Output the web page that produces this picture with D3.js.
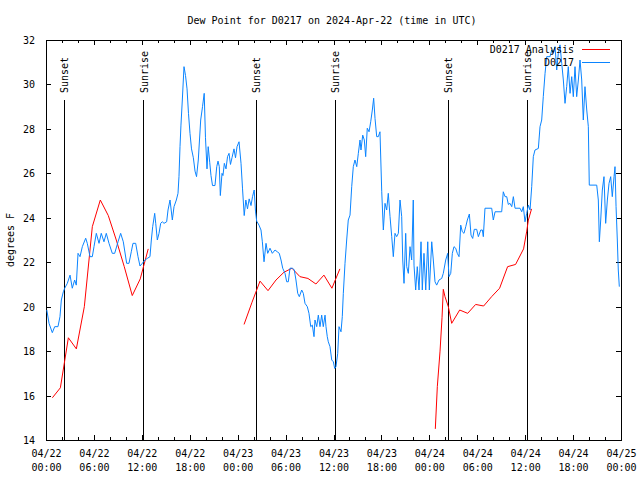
<!DOCTYPE html>
<html>
<head>
<meta charset="utf-8">
<script src="https://cdn.jsdelivr.net/npm/d3@7"></script>
<style>
  html, body { margin: 0; padding: 0; background: #fff; }
  svg text { font-family: "DejaVu Sans Mono", "Liberation Mono", monospace; font-size: 10px; fill: #000; }
</style>
</head>
<body>
<svg id="chart" width="640" height="480"></svg>
<script>
// ---- Data (hours since 2024-04-22 00:00 UTC) ----
const titleText = "Dew Point for D0217 on 2024-Apr-22 (time in UTC)";
const yLabel = "degrees F";
const seriesNames = ["D0217 Analysis", "D0217"];
const yTicks = [14, 16, 18, 20, 22, 24, 26, 28, 30, 32];

// Analysis (red); null marks a gap
const analysisHours = [0.8, 1.8, 2.8, 3.8, 4.8, 5.8, 6.8, 7.8, 8.8, 9.8, 10.8, 11.8, 12.8,
  null,
  24.8, 25.8, 26.8, 27.8, 28.8, 29.8, 30.8, 31.8, 32.8, 33.8, 34.8, 35.8, 36.8,
  null,
  48.75, 49.0, 49.34, 49.59, 49.75, 49.96, 50.38, 50.8, 51.8, 52.8, 53.8, 54.8, 55.8, 56.8,
  57.8, 58.8, 59.8, 60.2, 60.4, 60.8];
const analysisValues = [15.9, 16.35, 18.6, 18.1, 20.0, 23.6, 24.8, 24.1, 23.0, 21.8, 20.5, 21.25, 22.6,
  null,
  19.2, 20.2, 21.15, 20.72, 21.2, 21.55, 21.73, 21.35, 21.27, 21.02, 21.42, 20.83, 21.7,
  null,
  14.5, 16.4, 18.0, 19.5, 20.78, 20.45, 20.0, 19.25, 19.85, 19.7, 20.1, 20.03, 20.45, 20.83,
  21.8, 21.9, 22.6, 23.4, 23.9, 24.4];

// Observations (blue)
const obsHours = [0.1, 0.38, 0.79, 1.09, 1.50, 1.75, 1.92, 2.17, 2.34, 2.67, 3.01, 3.29, 3.59, 3.79,
  4.01, 4.26, 4.55, 4.97, 5.17, 5.51, 5.80, 6.01, 6.30, 6.64, 6.92, 7.26, 7.55, 7.89, 8.30, 8.60,
  9.02, 9.35, 9.68, 10.10, 10.39, 10.68, 10.89, 11.23, 11.52, 11.77, 12.06, 12.40, 12.68, 13.02,
  13.19, 13.36, 13.61, 13.74, 13.94, 14.15, 14.36, 14.56, 14.78, 15.11, 15.28, 15.53, 15.82, 16.03,
  16.32, 16.53, 16.65, 16.78, 16.90, 17.07, 17.28, 17.47, 17.66, 17.84, 18.03, 18.22, 18.45, 18.66,
  18.85, 19.07, 19.22, 19.37, 19.60, 19.81, 19.97, 20.16, 20.31, 20.50, 20.66, 20.85, 21.16, 21.38,
  21.54, 21.70, 21.83, 22.04, 22.16, 22.33, 22.54, 22.73, 22.92, 23.10, 23.29, 23.54, 23.73, 23.92,
  24.17, 24.42, 24.61, 24.82, 25.02, 25.23, 25.44, 25.67, 25.86, 26.07, 26.23, 26.38, 26.67, 26.92,
  27.09, 27.30, 27.55, 27.76, 28.05, 28.34, 28.68, 28.96, 29.21, 29.43, 29.64, 29.93, 30.14, 30.34,
  30.55, 30.89, 31.09, 31.30, 31.52, 31.72, 32.02, 32.22, 32.43, 32.72, 32.93, 33.15, 33.35, 33.56,
  33.68, 33.90, 34.10, 34.31, 34.52, 34.72, 34.94, 35.06, 35.22, 35.35, 35.56, 35.78, 35.98, 36.15,
  36.31, 36.53, 36.69, 36.94, 37.10, 37.23, 37.44, 37.65, 37.85, 38.07, 38.28, 38.48, 38.69, 38.91,
  39.11, 39.32, 39.44, 39.66, 39.86, 40.03, 40.23, 40.45, 40.66, 40.86, 41.03, 41.20, 41.41, 41.61,
  41.82, 42.04, 42.24, 42.45, 42.66, 42.86, 43.08, 43.29, 43.49, 43.70, 43.91, 44.12, 44.33, 44.54,
  44.67, 44.83, 45.04, 45.17, 45.37, 45.58, 45.79, 45.99, 46.08, 46.29, 46.49, 46.71, 46.96, 47.12,
  47.33, 47.55, 47.80, 48.00, 48.30, 48.50, 48.71, 48.92, 49.21, 49.55, 49.75, 50.05, 50.30, 50.46,
  50.68, 50.88, 51.09, 51.30, 51.50, 51.72, 51.93, 52.13, 52.34, 52.56, 52.76, 53.01, 53.22, 53.43,
  53.63, 53.93, 54.14, 54.44, 54.64, 54.76, 54.97, 55.81, 56.01, 56.23, 57.06, 57.26, 57.48, 57.69,
  57.89, 58.10, 58.32, 58.52, 58.73, 59.36, 59.57, 59.77, 59.98, 60.19, 60.40, 60.61, 60.82, 61.02,
  61.23, 61.65, 61.86, 62.07, 62.27, 62.49, 62.70, 63.11, 63.33, 63.53, 63.74, 63.95, 64.15, 64.36,
  64.58, 64.78, 64.99, 65.20, 65.40, 65.62, 65.83, 66.03, 66.24, 66.45, 66.66, 66.87, 67.08, 67.28,
  67.49, 67.71, 67.91, 68.03, 68.96, 69.16, 69.29, 69.46, 69.66, 69.87, 70.08, 70.29, 70.50, 70.71,
  70.91, 71.13, 71.25, 71.38, 71.54, 71.66, 71.79];
const obsValues = [19.85, 19.25, 18.83, 19.1, 19.1, 19.55, 20.3, 20.67, 20.83, 21.05, 21.42, 20.83, 21.2, 20.97,
  22.4, 22.25, 22.7, 23.08, 22.85, 22.25, 22.25, 22.7, 23.3, 22.85, 23.3, 22.92, 23.3, 22.85, 22.4, 22.4,
  22.92, 23.3, 22.92, 21.95, 21.95, 22.47, 22.85, 22.85, 22.25, 21.83, 21.95, 22.1, 22.17, 22.25,
  23.0, 23.6, 24.2, 23.75, 23.0, 23.3, 23.75, 23.82, 23.75, 23.82, 24.35, 24.8, 23.9, 24.5,
  24.8, 25.1, 25.85, 27.2, 28.17, 29.3, 30.8, 30.4, 29.8, 28.7, 27.8, 27.1, 26.7, 26.1,
  25.85, 26.6, 27.5, 28.4, 29.0, 29.6, 27.6, 26.2, 27.2, 26.5, 25.9, 25.45, 25.45, 26.3,
  26.55, 26.3, 25.0, 26.0, 25.9, 26.45, 26.2, 26.75, 26.9, 26.4, 26.7, 27.1, 26.7, 27.2,
  27.42, 26.45, 25.3, 24.1, 24.8, 24.4, 24.85, 24.55, 24.95, 25.25, 24.3, 23.85, 23.67, 23.45,
  22.92, 22.02, 22.85, 22.4, 22.63, 22.4, 22.55, 22.47, 22.4, 22.1, 21.73, 21.5, 21.12, 21.12,
  21.73, 21.73, 21.65, 21.2, 20.6, 20.45, 20.75, 20.6, 20.15, 20.0, 19.7, 19.1, 19.17, 18.65,
  19.4, 19.1, 19.62, 19.1, 19.62, 19.1, 19.62, 19.1, 18.65, 18.42, 18.2, 17.6, 17.52, 17.22,
  17.3, 17.9, 19.1, 18.87, 19.55, 20.6, 21.95, 23.0, 23.9, 24.12, 25.4, 26.3, 26.6, 26.3,
  26.9, 27.5, 27.05, 27.72, 27.5, 26.75, 28.03, 27.87, 28.32, 28.85, 29.38, 28.47, 27.65, 27.65,
  27.87, 25.17, 23.45, 24.65, 24.35, 25.1, 24.05, 23.15, 22.25, 23.3, 23.15, 23.3, 24.8, 24.05,
  22.1, 21.05, 23.3, 21.8, 21.5, 22.7, 22.1, 24.8, 21.87, 20.75, 21.8, 20.75, 22.92, 20.75,
  22.4, 20.75, 22.92, 20.75, 22.92, 22.1, 21.12, 20.97, 21.2, 21.27, 21.5, 22.1, 22.4, 21.35,
  21.5, 22.4, 22.7, 22.63, 22.4, 22.25, 23.67, 23.37, 23.3, 23.6, 23.9, 24.17, 23.22, 23.07,
  23.48, 23.48, 23.15, 23.45, 23.45, 23.15, 24.43, 24.43, 23.9, 24.27, 24.27, 25.17, 24.95, 24.95,
  24.6, 24.65, 24.5, 24.95, 24.43, 24.43, 24.27, 24.5, 23.82, 24.2, 24.57, 24.35, 25.4, 26.75,
  27.05, 27.12, 28.1, 28.4, 29.45, 30.5, 31.25, 31.25, 31.55, 31.4, 31.7, 30.65, 31.4, 31.78,
  30.95, 30.2, 29.15, 29.9, 30.8, 29.6, 30.35, 29.45, 30.8, 29.45, 30.2, 31.1, 30.2, 28.4,
  29.9, 28.85, 28.1, 25.47, 25.47, 24.8, 22.92, 23.9, 25.25, 25.85, 23.75, 24.8, 25.55, 25.85,
  24.95, 25.85, 26.3, 24.5, 23.0, 21.65, 20.9];

// Sunrise / sunset markers (hours)
const markerHours = [2.3, 12.27, 26.33, 36.25, 50.38, 60.23];
const markerLabels = ["Sunset", "Sunrise", "Sunset", "Sunrise", "Sunset", "Sunrise"];

// ---- Chart ----
const t0 = Date.UTC(2024, 3, 22);
const toDate = h => new Date(t0 + h * 3600e3);

const svg = d3.select("#chart");
const M = { left: 46, right: 621, top: 40, bottom: 440 };

const x = d3.scaleUtc().domain([toDate(0), toDate(72)]).range([M.left, M.right]);
const y = d3.scaleLinear().domain([14, 32]).range([M.bottom, M.top]);

const colors = { analysis: "#ff0000", obs: "#0a84ff" };

// Title
svg.append("text").attr("x", 332).attr("y", 24).attr("text-anchor", "middle").text(titleText);

// Y label
svg.append("text").attr("transform", "translate(14,240) rotate(-90)")
  .attr("text-anchor", "middle").text(yLabel);

// Axes (inward ticks)
const majorTicks = d3.range(0, 73, 6).map(toDate);
const minorTicks = d3.range(0, 73, 2).filter(h => h % 6 !== 0).map(toDate);

const gx = svg.append("g").attr("transform", `translate(0,${M.bottom})`)
  .call(d3.axisBottom(x).tickValues(majorTicks).tickSize(-5).tickPadding(10).tickFormat(""));
gx.selectAll(".tick").each(function(d) {
  const t = d3.select(this).append("text").attr("text-anchor", "middle").attr("fill", "#000");
  t.append("tspan").attr("x", 0).attr("y", 17).text(d3.utcFormat("%m/%d")(d));
  t.append("tspan").attr("x", 0).attr("y", 31).text(d3.utcFormat("%H:%M")(d));
});
svg.append("g").attr("transform", `translate(0,${M.bottom})`)
  .call(d3.axisBottom(x).tickValues(minorTicks).tickSize(-3).tickFormat(""));
svg.append("g").attr("transform", `translate(0,${M.top})`)
  .call(d3.axisTop(x).tickValues(majorTicks).tickSize(-5).tickFormat(""));
svg.append("g").attr("transform", `translate(0,${M.top})`)
  .call(d3.axisTop(x).tickValues(minorTicks).tickSize(-3).tickFormat(""));

const gy = svg.append("g").attr("transform", `translate(${M.left},0)`)
  .call(d3.axisLeft(y).tickValues(yTicks).tickSize(-5).tickPadding(11).tickFormat(d3.format("d")));
svg.append("g").attr("transform", `translate(${M.right},0)`)
  .call(d3.axisRight(y).tickValues(yTicks).tickSize(-5).tickFormat(""));

svg.selectAll(".domain").remove();
svg.selectAll(".tick line").attr("stroke", "#000").attr("shape-rendering", "crispEdges");
svg.selectAll(".tick text").attr("font-family", "DejaVu Sans Mono, monospace").attr("font-size", 10);
gy.selectAll(".tick text").attr("dy", "0.35em");

svg.append("rect").attr("x", M.left).attr("y", M.top)
  .attr("width", M.right - M.left).attr("height", M.bottom - M.top)
  .attr("fill", "none").attr("stroke", "#000").attr("shape-rendering", "crispEdges");

// Sunrise/Sunset markers
markerHours.forEach((h, i) => {
  const px = x(toDate(h));
  svg.append("line").attr("x1", px).attr("x2", px).attr("y1", 100).attr("y2", M.bottom)
    .attr("stroke", "#000").attr("stroke-width", 1).attr("shape-rendering", "crispEdges");
  svg.append("text").attr("transform", `translate(${px + 4},93) rotate(-90)`)
    .attr("text-anchor", "start").text(markerLabels[i]);
});

// Lines
const line = d3.line()
  .defined(d => d[1] !== null && d[0] !== null)
  .x(d => x(toDate(d[0])))
  .y(d => y(d[1]));

const analysisData = analysisHours.map((h, i) => [h, analysisValues[i]]);
const obsData = obsHours.map((h, i) => [h, obsValues[i]]);

svg.append("path").datum(analysisData).attr("d", line)
  .attr("fill", "none").attr("stroke", colors.analysis).attr("stroke-width", 1);
svg.append("path").datum(obsData).attr("d", line)
  .attr("fill", "none").attr("stroke", colors.obs).attr("stroke-width", 1);

// Legend
const legend = [
  { name: seriesNames[0], color: colors.analysis, y: 49 },
  { name: seriesNames[1], color: colors.obs, y: 62 }
];
legend.forEach(l => {
  svg.append("text").attr("x", 574).attr("y", l.y).attr("dy", "0.35em")
    .attr("text-anchor", "end").text(l.name);
  svg.append("line").attr("x1", 582).attr("x2", 610).attr("y1", l.y).attr("y2", l.y)
    .attr("stroke", l.color).attr("stroke-width", 1).attr("shape-rendering", "crispEdges");
});
</script>
</body>
</html>
